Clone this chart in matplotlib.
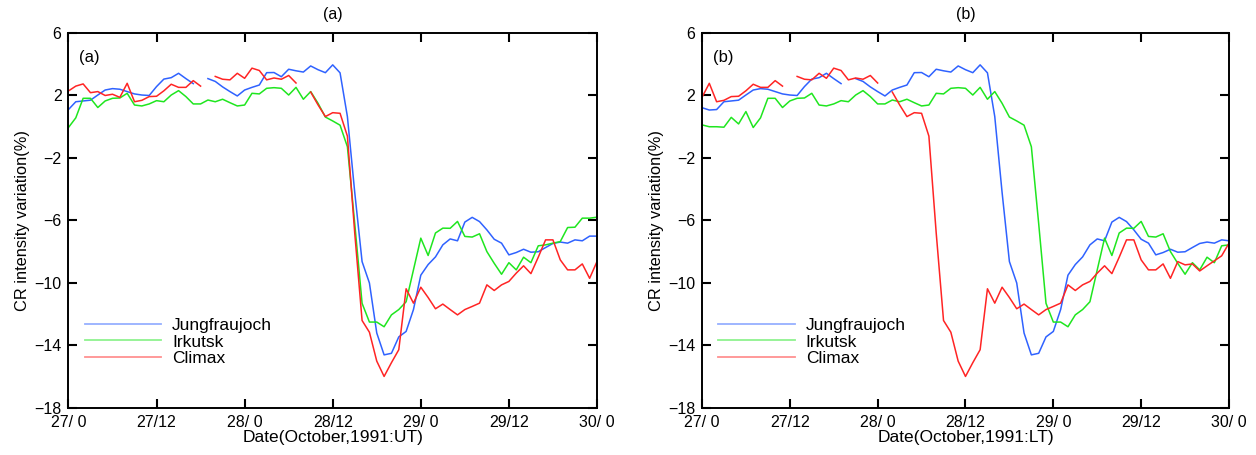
import numpy as np
import matplotlib
matplotlib.use("Agg")
import matplotlib.pyplot as plt

plt.rcParams['font.family'] = ['Liberation Sans', 'DejaVu Sans']

nan = np.nan

# hourly CR intensity variation (%), UT hours counted from 27 Oct 00 UT
jung_start = -2
jung = [1.22, 1.07,
        1.1, 1.6, 1.65, 1.7, 2.03, 2.35, 2.44, 2.4, 2.25, 2.1, 2.03, 2.0,
        2.57, 3.05, 3.14, 3.42, 3.08, 2.76, nan, 3.08, 2.9, 2.55, 2.25, 1.97,
        2.35, 2.52, 2.67, 3.46, 3.47, 3.2, 3.68, 3.58, 3.5, 3.89, 3.65, 3.46,
        3.96, 3.45, 0.65, -4.2, -8.63, -10.0, -13.2, -14.6, -14.5, -13.45,
        -13.1, -11.7, -9.5, -8.82, -8.33, -7.56, -7.18, -7.3, -6.1, -5.8,
        -6.07, -6.6, -7.2, -7.45, -8.2, -8.05, -7.84, -8.03, -8.0, -7.73,
        -7.47, -7.38, -7.45, -7.24, -7.3, -7.0, -7.0]

irk_start = -7
irk = [0.12, 0.0, 0.0, -0.03, 0.6, 0.18, 0.97,
       -0.05, 0.57, 1.82, 1.82, 1.23, 1.65, 1.82, 1.84, 2.14, 1.39, 1.33,
       1.46, 1.67, 1.6, 2.03, 2.31, 1.93, 1.46, 1.46, 1.71, 1.6, 1.76, 1.54,
       1.33, 1.39, 2.14, 2.1, 2.46, 2.5, 2.46, 2.03, 2.52, 1.76, 2.25, 1.5,
       0.62, 0.37, 0.1, -1.28, -6.2, -11.3, -12.5, -12.5, -12.8, -12.04,
       -11.7, -11.2, -9.16, -7.13, -8.24, -6.8, -6.49, -6.5, -6.06, -7.02,
       -7.06, -6.85, -7.99, -8.74, -9.44, -8.7, -9.16, -8.35, -8.7, -7.62,
       -7.56, -7.45, -7.35, -6.45, -6.43, -5.85, -5.85, -5.79]

clim_start = 0
clim = [2.29, 2.6, 2.74, 2.18, 2.25, 2.0, 2.08, 1.88, 2.78, 1.6, 1.69, 1.93,
        1.95, 2.3, 2.72, 2.52, 2.52, 2.95, 2.6, nan, 3.22, 3.04, 3.0, 3.42,
        3.1, 3.75, 3.6, 3.0, 3.12, 3.04, 3.28, 2.8, nan, 2.22, 1.4, 0.65,
        0.9, 0.86, -0.6, -6.8, -12.4, -13.15, -15.0, -15.98, -15.1, -14.27,
        -10.37, -11.29, -10.27, -10.93, -11.65, -11.35, -11.7, -12.04, -11.7,
        -11.5, -11.29, -10.12, -10.48, -10.12, -9.9, -9.37, -8.9, -9.4, -8.35,
        -7.24, -7.24, -8.52, -9.16, -9.16, -8.78, -9.7, -8.63, -8.84, -8.78,
        -9.23, -8.9, -8.58, -8.26, -7.45]

# local time offsets (hours) used in panel (b)
lt_offset = {'Jungfraujoch': 2, 'Irkutsk': 7, 'Climax': -7}

stations = ['Jungfraujoch', 'Irkutsk', 'Climax']
series = {'Jungfraujoch': (jung_start, jung),
          'Irkutsk': (irk_start, irk),
          'Climax': (clim_start, clim)}
colors = {'Jungfraujoch': '#2f62ff', 'Irkutsk': '#1fe61f', 'Climax': '#ff2424'}

xticks = [0, 12, 24, 36, 48, 60, 72]
xticklabels = ['27/ 0', '27/12', '28/ 0', '28/12', '29/ 0', '29/12', '30/ 0']
yticks = [6, 2, -2, -6, -10, -14, -18]

fig = plt.figure(figsize=(12.56, 4.55), dpi=100)
axa = fig.add_axes([0.0545, 0.1033, 0.4208, 0.8242])
axb = fig.add_axes([0.5589, 0.1033, 0.4196, 0.8242])

panels = [(axa, '(a)', 'UT', False), (axb, '(b)', 'LT', True)]
for ax, tag, tz, use_lt in panels:
    for st in stations:
        start, vals = series[st]
        v = np.array(vals, dtype=float)
        t = start + np.arange(len(v), dtype=float)
        if use_lt:
            t = t + lt_offset[st]
        m = (t >= 0) & (t <= 72)
        ax.plot(t[m], v[m], color=colors[st], lw=1.1, label=st)
    ax.set_xlim(0, 72)
    ax.set_ylim(-18, 6)
    ax.set_xticks(xticks)
    ax.set_xticklabels(xticklabels)
    ax.set_yticks(yticks)
    ax.tick_params(direction='in', length=6.5, width=1.5, top=True, right=True,
                   labelsize=11.5, pad=5)
    for s in ax.spines.values():
        s.set_linewidth(1.4)
    ax.set_title(tag, fontsize=11.5, pad=10)
    ax.text(0.02, 0.955, tag, transform=ax.transAxes, fontsize=12,
            ha='left', va='top')
    ax.set_xlabel('Date(October,1991:%s)' % tz, fontsize=12.5, labelpad=0)
    ax.set_ylabel('CR intensity variation(%)', fontsize=11.8, labelpad=3)
    leg = ax.legend(loc='upper left', bbox_to_anchor=(0.031, 0.24),
                    frameon=False, fontsize=12.5, borderpad=0, borderaxespad=0,
                    handlelength=4.4, handletextpad=0.63, labelspacing=0.07)
    for ln in leg.get_lines():
        ln.set_alpha(0.5)
        ln.set_linewidth(1.3)

fig.savefig('out.png', dpi=100)
